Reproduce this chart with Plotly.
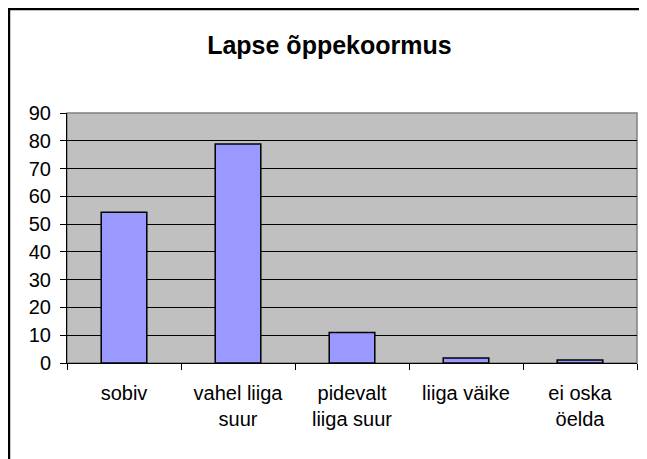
import plotly.graph_objects as go

categories = ["sobiv", "vahel liiga<br>suur", "pidevalt<br>liiga suur", "liiga väike", "ei oska<br>öelda"]
values = [54.3, 78.8, 11, 1.8, 1.1]
y_ticks = [0, 10, 20, 30, 40, 50, 60, 70, 80, 90]

FONT = "Liberation Sans, Arial, sans-serif"

fig = go.Figure()
fig.add_trace(go.Bar(
    x=categories,
    y=values,
    marker=dict(color="#9999FF", line=dict(color="#000000", width=1.5)),
))

# page has an 8px body margin, so the figure is sized to fit the window
fig.update_layout(
    width=639,
    height=451,
    margin=dict(l=59, r=10, t=105, b=96),
    paper_bgcolor="white",
    plot_bgcolor="#C0C0C0",
    bargap=0.6,
    showlegend=False,
    font=dict(family=FONT, size=20, color="black"),
    title=dict(
        text="<b>Lapse õppekoormus</b>",
        x=0.503, xanchor="center",
        y=0.918, yanchor="middle",
        font=dict(family=FONT, size=25, color="black"),
    ),
)
fig.update_xaxes(
    showline=True, linecolor="black", linewidth=1,
    ticks="outside", tickson="boundaries", ticklen=6, tickcolor="black",
    ticklabelstandoff=12,
    showgrid=False,
    tickfont=dict(size=20),
)
fig.update_yaxes(
    range=[0, 90], tickvals=y_ticks,
    showline=True, linecolor="black", linewidth=1,
    ticks="outside", ticklen=6, tickcolor="black",
    ticklabelstandoff=5,
    showgrid=True, gridcolor="black", gridwidth=1,
    tickfont=dict(size=20),
    zeroline=False,
)
# grey frame around plot area
fig.add_shape(type="rect", xref="paper", yref="paper", x0=0, x1=1, y0=0, y1=1,
              line=dict(color="#808080", width=1.5), layer="below")
# outer chart border (right and bottom edges fall outside the picture)
fig.add_shape(type="rect", xref="paper", yref="paper",
              x0=-0.1018, x1=1.05, y0=-0.5, y1=1.416,
              line=dict(color="black", width=2.5))

fig.write_html("out.html")
